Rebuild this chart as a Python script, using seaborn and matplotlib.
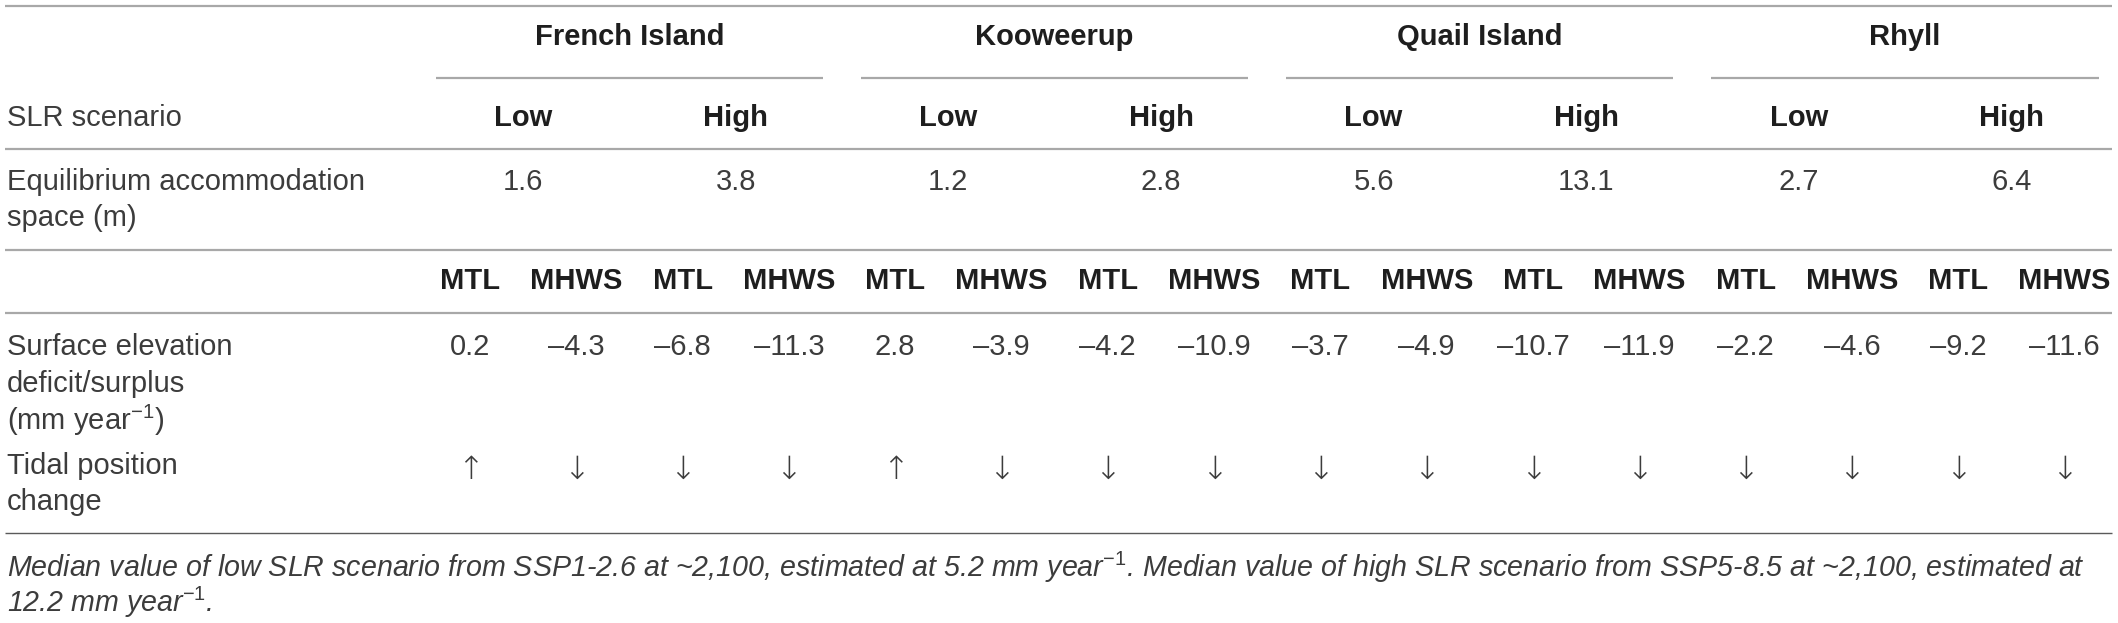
import matplotlib
matplotlib.use("Agg")
import matplotlib.pyplot as plt
import seaborn as sns

# Table content
sites = ["French Island", "Kooweerup", "Quail Island", "Rhyll"]
scenarios = ["Low", "High"]
datums = ["MTL", "MHWS"]
accommodation = [1.6, 3.8, 1.2, 2.8, 5.6, 13.1, 2.7, 6.4]
deficit = [0.2, -4.3, -6.8, -11.3, 2.8, -3.9, -4.2, -10.9,
           -3.7, -4.9, -10.7, -11.9, -2.2, -4.6, -9.2, -11.6]
tidal_change = ["up", "down", "down", "down", "up", "down", "down", "down",
                "down", "down", "down", "down", "down", "down", "down", "down"]
row_labels = {
    "scenario": ["SLR scenario"],
    "space": ["Equilibrium accommodation", "space (m)"],
    "deficit": ["Surface elevation", "deficit/surplus", "(mm year$^{-1}$)"],
    "tidal": ["Tidal position", "change"],
}
footnote = ["Median value of low SLR scenario from SSP1-2.6 at ~2,100, estimated at 5.2 mm year$^{-1}$. "
            "Median value of high SLR scenario from SSP5-8.5 at ~2,100, estimated at",
            "12.2 mm year$^{-1}$."]

sns.set_theme(style="white")
plt.rcParams["font.family"] = ["Liberation Sans", "DejaVu Sans"]
plt.rcParams["mathtext.fontset"] = "custom"
plt.rcParams["mathtext.rm"] = "Liberation Sans"
plt.rcParams["mathtext.it"] = "Liberation Sans:italic"
plt.rcParams["mathtext.bf"] = "Liberation Sans:bold"

W, H = 2118, 623
fig = plt.figure(figsize=(W / 100, H / 100), dpi=100)
ax = fig.add_axes([0, 0, 1, 1])
ax.set_xlim(0, W)
ax.set_ylim(H, 0)
ax.axis("off")

fs = 21
body = "#3c3c3c"
head = "#1e1e1e"
x0, dx = 470, 106.3
cols = [x0 + i * dx for i in range(len(deficit))]

def fmt(v):
    return f"{v:.1f}".replace("-", "\u2013")

# rules
for y in [6, 149, 250, 313]:
    ax.hlines(y, 5, 2112, color="#a8a8a8", lw=1.6)
ax.hlines(533, 5, 2112, color="#5a5a5a", lw=1.0)

# site headers + underlines
for g, site in enumerate(sites):
    left = cols[4 * g] - dx / 2
    right = cols[4 * g + 3] + dx / 2
    ax.text((left + right) / 2, 37, site, ha="center", va="center",
            fontsize=fs, fontweight="bold", color=head)
    ax.hlines(78, left + 19, right - 19, color="#a8a8a8", lw=1.6)

# scenario row
ax.text(7, 118, row_labels["scenario"][0], ha="left", va="center", fontsize=fs, color=body)
for k in range(len(accommodation)):
    xc = (cols[2 * k] + cols[2 * k + 1]) / 2
    ax.text(xc, 118, scenarios[k % 2], ha="center", va="center",
            fontsize=fs, fontweight="bold", color=head)
    ax.text(xc, 182, fmt(accommodation[k]), ha="center", va="center",
            fontsize=fs, color=body)

for i, line in enumerate(row_labels["space"]):
    ax.text(7, 182 + 36 * i, line, ha="left", va="center", fontsize=fs, color=body)

# datum header row
for i, xc in enumerate(cols):
    ax.text(xc, 281, datums[i % 2], ha="center", va="center",
            fontsize=fs, fontweight="bold", color=head)

# deficit / surplus row
for i, line in enumerate(row_labels["deficit"]):
    ax.text(7, 347 + 36.5 * i, line, ha="left", va="center", fontsize=fs, color=body)
for xc, v in zip(cols, deficit):
    ax.text(xc, 347, fmt(v), ha="center", va="center", fontsize=fs, color=body)

# tidal position row
for i, line in enumerate(row_labels["tidal"]):
    ax.text(7, 466 + 36 * i, line, ha="left", va="center", fontsize=fs, color=body)
for xc, d in zip(cols, tidal_change):
    ax.text(xc, 470, "\u2191" if d == "up" else "\u2193", ha="center", va="center",
            fontsize=23, family="DejaVu Sans", fontweight="light", color=body)

# footnote
for i, line in enumerate(footnote):
    ax.text(7, 567 + 35 * i, line, ha="left", va="center", fontsize=20.6,
            style="italic", color=body)

fig.savefig("out.png", dpi=100, facecolor="white")
